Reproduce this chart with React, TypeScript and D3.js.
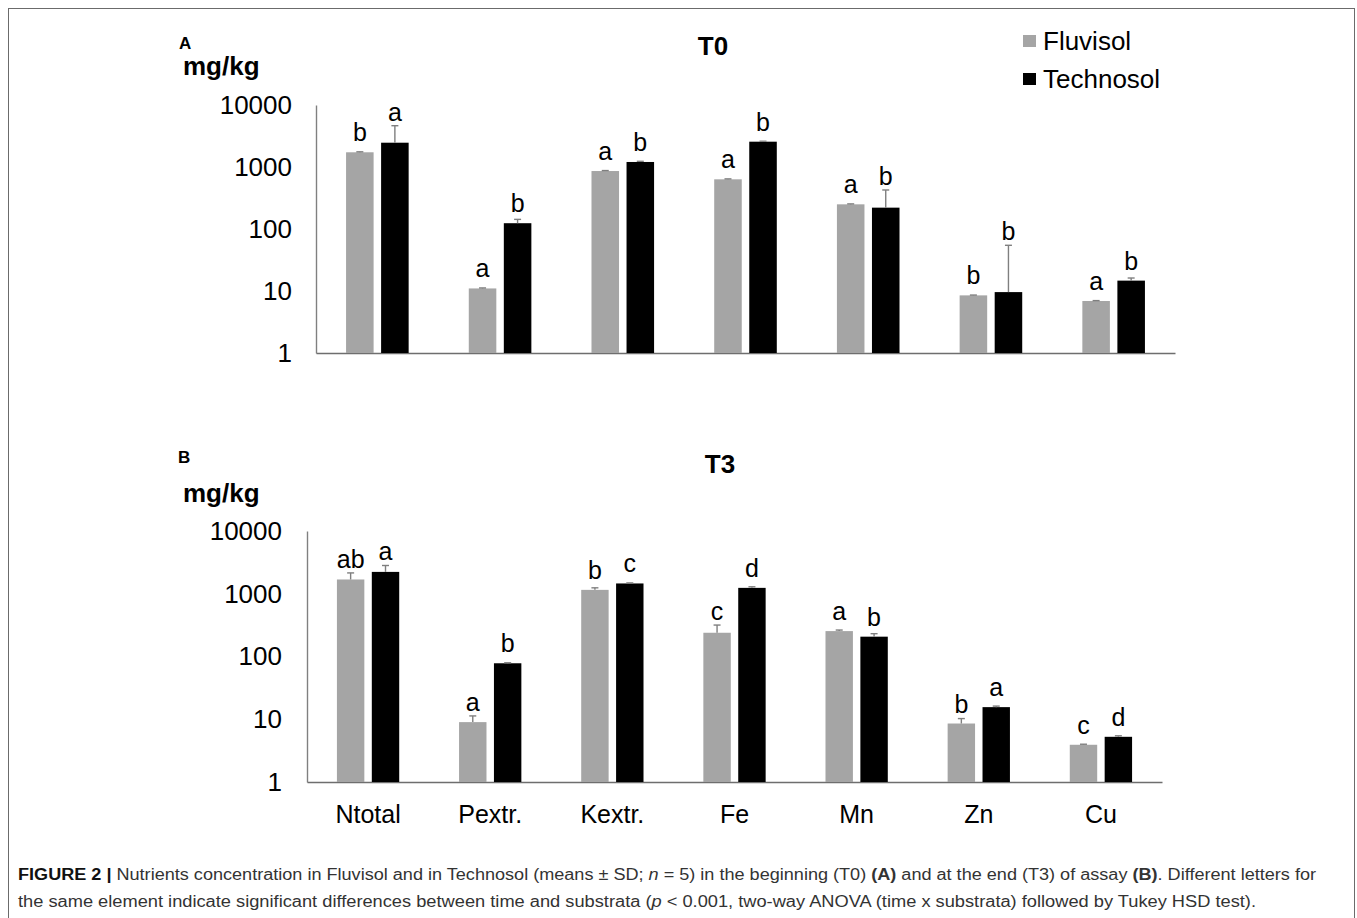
import { useEffect, useRef } from "react";
import * as d3 from "d3";

const categories = ["Ntotal", "Pextr.", "Kextr.", "Fe", "Mn", "Zn", "Cu"];
const seriesNames = ["Fluvisol", "Technosol"];
const yTicks = [1, 10, 100, 1000, 10000];

// T0 (panel A)
const t0Fluvisol = [1727, 11.0, 861, 633, 250, 8.5, 6.9];
const t0FluvisolSD = [30, 0.2, 15, 10, 4, 0.1, 0.1];
const t0Technosol = [2465, 124, 1205, 2560, 221, 9.6, 14.7];
const t0TechnosolSD = [2170, 19, 30, 45, 205, 45, 1.5];
const t0FluvisolLetters = ["b", "a", "a", "a", "a", "b", "a"];
const t0TechnosolLetters = ["a", "b", "b", "b", "b", "b", "b"];

// T3 (panel B)
const t3Fluvisol = [1688, 9.0, 1153, 239, 254, 8.55, 3.92];
const t3FluvisolSD = [460, 2.3, 90, 78, 10, 1.7, 0.08];
const t3Technosol = [2230, 78, 1459, 1241, 207, 15.6, 5.25];
const t3TechnosolSD = [590, 1.5, 30, 50, 24, 0.6, 0.2];
const t3FluvisolLetters = ["ab", "a", "b", "c", "a", "b", "c"];
const t3TechnosolLetters = ["a", "b", "c", "d", "b", "a", "d"];

const seriesColors = ["#a5a5a5", "#000000"];
const font = "'Liberation Sans', Arial, sans-serif";

export default function App() {
  const svgRef = useRef<SVGSVGElement | null>(null);

  useEffect(() => {
    if (!svgRef.current) return;
    const width = 1357;
    const height = 918;

    const svg = d3.select(svgRef.current).attr("width", width).attr("height", height);
    svg.selectAll("*").remove();

    svg.append("rect")
      .attr("x", 8.5).attr("y", 8.5)
      .attr("width", 1346).attr("height", 1000)
      .attr("fill", "none").attr("stroke", "#6b6b6b");

    const drawPanel = (p: any) => {
      const g = svg.append("g").style("font-family", font);

      const x0 = d3.scaleBand()
        .domain(categories)
        .range([p.left, p.right])
        .paddingInner(0.49)
        .paddingOuter(0.245);

      const x1 = d3.scaleBand()
        .domain(seriesNames)
        .range([0, x0.bandwidth()])
        .paddingInner(0.214);

      const y = d3.scaleLog().domain([1, 10000]).range([p.bottom, p.top]);

      const yAxis = g.append("g")
        .attr("transform", `translate(${p.left},0)`)
        .call(d3.axisLeft(y).tickValues(yTicks).tickSize(0).tickSizeOuter(0).tickPadding(p.tickPad).tickFormat(d3.format("d")));
      yAxis.select(".domain").attr("stroke", "#808080").attr("stroke-width", 1.4);
      yAxis.selectAll("text").style("font-size", "26px").style("font-family", font).attr("fill", "#000");

      const xAxis = g.append("g")
        .attr("transform", `translate(0,${p.bottom})`)
        .call(d3.axisBottom(x0).tickSize(0).tickSizeOuter(0).tickPadding(23)
          .tickFormat(p.showCategories ? (d: string) => d : () => ""));
      xAxis.select(".domain").attr("stroke", "#6e6e6e").attr("stroke-width", 1.4);
      xAxis.selectAll("text").style("font-size", "25px").style("font-family", font).attr("fill", "#000");

      const rows = categories.map((c, i) => ({
        cat: c,
        bars: seriesNames.map((s, j) => ({
          s,
          j,
          v: p.values[j][i],
          sd: p.sds[j][i],
          letter: p.letters[j][i],
        })),
      }));

      const groups = g.selectAll(".cat")
        .data(rows)
        .join("g")
        .attr("class", "cat")
        .attr("transform", d => `translate(${x0(d.cat)},0)`);

      const bars = groups.selectAll(".bar")
        .data(d => d.bars)
        .join("g")
        .attr("class", "bar");

      bars.append("rect")
        .attr("x", d => x1(d.s) as number)
        .attr("width", x1.bandwidth())
        .attr("y", d => y(d.v))
        .attr("height", d => p.bottom - y(d.v))
        .attr("fill", d => seriesColors[d.j]);

      const cx = (d: any) => (x1(d.s) as number) + x1.bandwidth() / 2;

      bars.append("line")
        .attr("x1", cx).attr("x2", cx)
        .attr("y1", d => y(d.v))
        .attr("y2", d => y(d.v + d.sd))
        .attr("stroke", "#7f7f7f").attr("stroke-width", 1.4);

      bars.append("line")
        .attr("x1", d => cx(d) - 3.5).attr("x2", d => cx(d) + 3.5)
        .attr("y1", d => y(d.v + d.sd))
        .attr("y2", d => y(d.v + d.sd))
        .attr("stroke", "#7f7f7f").attr("stroke-width", 1.4);

      bars.append("text")
        .attr("x", cx)
        .attr("y", d => Math.min(y(d.v) - 11, y(d.v + d.sd) - 5))
        .attr("text-anchor", "middle")
        .style("font-size", "25px")
        .attr("fill", "#000")
        .text(d => d.letter);

      g.append("text")
        .attr("x", p.tagX).attr("y", p.tagY)
        .style("font-size", "17px").style("font-weight", "bold")
        .text(p.tag);

      g.append("text")
        .attr("x", p.unitX).attr("y", p.unitY)
        .style("font-size", "26px").style("font-weight", "bold")
        .text("mg/kg");

      g.append("text")
        .attr("x", p.titleX).attr("y", p.titleY)
        .attr("text-anchor", "middle")
        .style("font-size", "26px").style("font-weight", "bold")
        .text(p.title);
    };

    drawPanel({
      left: 316, right: 1175, top: 105, bottom: 353, tickPad: 24,
      values: [t0Fluvisol, t0Technosol],
      sds: [t0FluvisolSD, t0TechnosolSD],
      letters: [t0FluvisolLetters, t0TechnosolLetters],
      showCategories: false,
      tag: "A", tagX: 179, tagY: 49,
      unitX: 183, unitY: 75,
      title: "T0", titleX: 713, titleY: 55,
    });

    drawPanel({
      left: 307, right: 1162, top: 531, bottom: 782, tickPad: 25,
      values: [t3Fluvisol, t3Technosol],
      sds: [t3FluvisolSD, t3TechnosolSD],
      letters: [t3FluvisolLetters, t3TechnosolLetters],
      showCategories: true,
      tag: "B", tagX: 178, tagY: 463,
      unitX: 183, unitY: 502,
      title: "T3", titleX: 720, titleY: 473,
    });

    // legend
    const legend = svg.append("g").style("font-family", font);
    seriesNames.forEach((s, i) => {
      legend.append("rect")
        .attr("x", 1023).attr("y", 35 + i * 38)
        .attr("width", 13).attr("height", 12)
        .attr("fill", seriesColors[i]);
      legend.append("text")
        .attr("x", 1043).attr("y", 50 + i * 38)
        .style("font-size", "26px")
        .text(s);
    });

    // caption
    const cap = svg.append("g")
      .style("font-family", "'Liberation Sans Narrow', 'Liberation Sans', Arial, sans-serif")
      .style("font-size", "16px")
      .attr("fill", "#333");

    const line1 = cap.append("text").attr("x", 18).attr("y", 880)
      .attr("textLength", 1298).attr("lengthAdjust", "spacingAndGlyphs");
    line1.append("tspan").style("font-weight", "bold").attr("fill", "#111").text("FIGURE 2 |");
    line1.append("tspan").text(" Nutrients concentration in Fluvisol and in Technosol (means \u00b1 SD; ");
    line1.append("tspan").style("font-style", "italic").text("n");
    line1.append("tspan").text(" = 5) in the beginning (T0) ");
    line1.append("tspan").style("font-weight", "bold").text("(A)");
    line1.append("tspan").text(" and at the end (T3) of assay ");
    line1.append("tspan").style("font-weight", "bold").text("(B)");
    line1.append("tspan").text(". Different letters for");

    const line2 = cap.append("text").attr("x", 18).attr("y", 907)
      .attr("textLength", 1238).attr("lengthAdjust", "spacingAndGlyphs");
    line2.append("tspan").text("the same element indicate significant differences between time and substrata (");
    line2.append("tspan").style("font-style", "italic").text("p");
    line2.append("tspan").text(" < 0.001, two-way ANOVA (time x substrata) followed by Tukey HSD test).");
  }, []);

  return (
    <svg ref={svgRef} style={{ position: "absolute", left: 0, top: 0, background: "#fff" }} />
  );
}
